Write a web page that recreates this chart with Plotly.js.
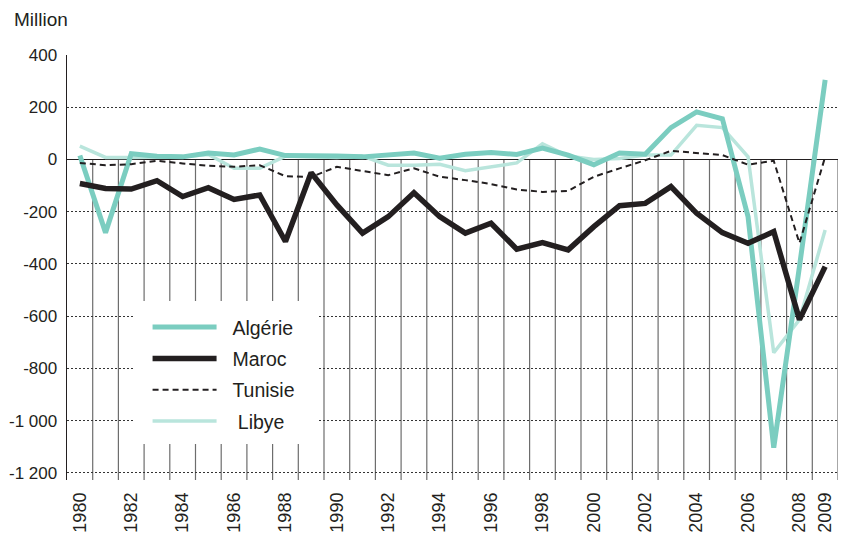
<!DOCTYPE html>
<html><head><meta charset="utf-8">
<script src="https://cdn.plot.ly/plotly-3.0.1.min.js"></script>
<style>html,body{margin:0;padding:0;background:#fff}#chart{width:843px;height:541px}</style>
</head><body><div id="chart"></div>
<script>
const years = [1980,1981,1982,1983,1984,1985,1986,1987,1988,1989,1990,1991,1992,1993,1994,1995,1996,1997,1998,1999,2000,2001,2002,2003,2004,2005,2006,2007,2008,2009];
const algerie = [15,-280,22,12,10,25,17,40,15,15,13,10,19,25,5,20,27,19,44,17,-20,25,20,122,182,156,-219,-1103,-410,305];
const maroc = [-92,-111,-113,-81,-142,-108,-153,-136,-314,-51,-174,-282,-219,-127,-219,-282,-244,-343,-318,-346,-257,-177,-168,-104,-206,-280,-321,-276,-613,-410];
const tunisie = [-13,-22,-18,-5,-15,-24,-28,-22,-64,-67,-28,-45,-60,-34,-66,-79,-94,-115,-124,-120,-66,-34,-3,33,25,17,-20,-5,-320,10];
const libye = [51,8,8,8,10,19,-34,-34,13,10,8,13,-22,-22,-18,-43,-28,-13,60,13,0,4,17,17,131,122,10,-740,-613,-270];
const seriesNames = ['\u00a0\u00a0Algérie','\u00a0\u00a0Maroc','\u00a0\u00a0Tunisie','\u00a0\u00a0\u00a0Libye'];
const xTickVals = [1980,1982,1984,1986,1988,1990,1992,1994,1996,1998,2000,2002,2004,2006,2008,2009];
const xTickText = ['1980','1982','1984','1986','1988','1990','1992','1994','1996','1998','2000','2002','2004','2006','2008','2009'];
const yTickVals = [400,200,0,-200,-400,-600,-800,-1000,-1200];
const yTickText = ['400','200','0','-200','-400','-600','-800','-1 000','-1 200'];

const ink = '#231f20';
const traces = [
  {x: years, y: libye, name: seriesNames[3], legendrank: 4, legendgroup: 'd', mode: 'lines',
   line: {color: '#b9e5dc', width: 3.5}},
  {x: years, y: algerie, name: seriesNames[0], legendrank: 1, legendgroup: 'a', mode: 'lines',
   line: {color: '#7bcdc0', width: 5}},
  {x: years, y: maroc, name: seriesNames[1], legendrank: 2, legendgroup: 'b', mode: 'lines',
   line: {color: ink, width: 5.5}},
  {x: years, y: tunisie, name: seriesNames[2], legendrank: 3, legendgroup: 'c', mode: 'lines',
   line: {color: ink, width: 2, dash: '6px,4px'}}
];

const shapes = years.map(yr => ({
  type: 'line', xref: 'x', yref: 'y', x0: yr + 0.5, x1: yr + 0.5, y0: 0, y1: -1227,
  line: {color: '#6d6d6d', width: 1.2}, layer: 'below'
}));
shapes.push({type: 'rect', xref: 'paper', yref: 'paper', x0: 0.0856, x1: 0.3256, y0: 0.0847, y1: 0.4212,
  fillcolor: '#ffffff', line: {width: 0}, layer: 'above'});

const layout = {
  width: 843, height: 541,
  margin: {l: 67, r: 5, t: 55, b: 61},
  paper_bgcolor: '#ffffff', plot_bgcolor: '#ffffff',
  font: {family: '"Liberation Sans", Arial, sans-serif', color: ink},
  showlegend: true,
  legend: {x: 0.1045, y: 0.405, xanchor: 'left', yanchor: 'top', bgcolor: 'rgba(0,0,0,0)',
    font: {size: 19.5, color: ink}, itemwidth: 64, tracegroupgap: 3, traceorder: 'grouped'},
  xaxis: {range: [1979.5, 2009.5], tickmode: 'array', tickvals: xTickVals, ticktext: xTickText,
    tickangle: -90, showgrid: false, zeroline: false, showline: false, ticks: '',
    ticklabelstandoff: 8, tickfont: {size: 18, color: ink}, fixedrange: true},
  yaxis: {range: [-1227, 400], tickmode: 'array', tickvals: yTickVals, ticktext: yTickText,
    showgrid: true, gridcolor: '#333333', griddash: '2px,2px', gridwidth: 1,
    zeroline: true, zerolinecolor: ink, zerolinewidth: 1.2,
    showline: true, linecolor: ink, linewidth: 1.4, ticks: '',
    ticklabelstandoff: 5, tickfont: {size: 17, color: ink}, fixedrange: true},
  shapes: shapes,
  annotations: [{xref: 'paper', yref: 'paper', x: -0.0713, y: 1.0847, xanchor: 'left', yanchor: 'middle',
    text: 'Million', showarrow: false, font: {size: 19, color: ink}}]
};

Plotly.newPlot('chart', traces, layout, {displayModeBar: false, staticPlot: true});
</script>
</body></html>
